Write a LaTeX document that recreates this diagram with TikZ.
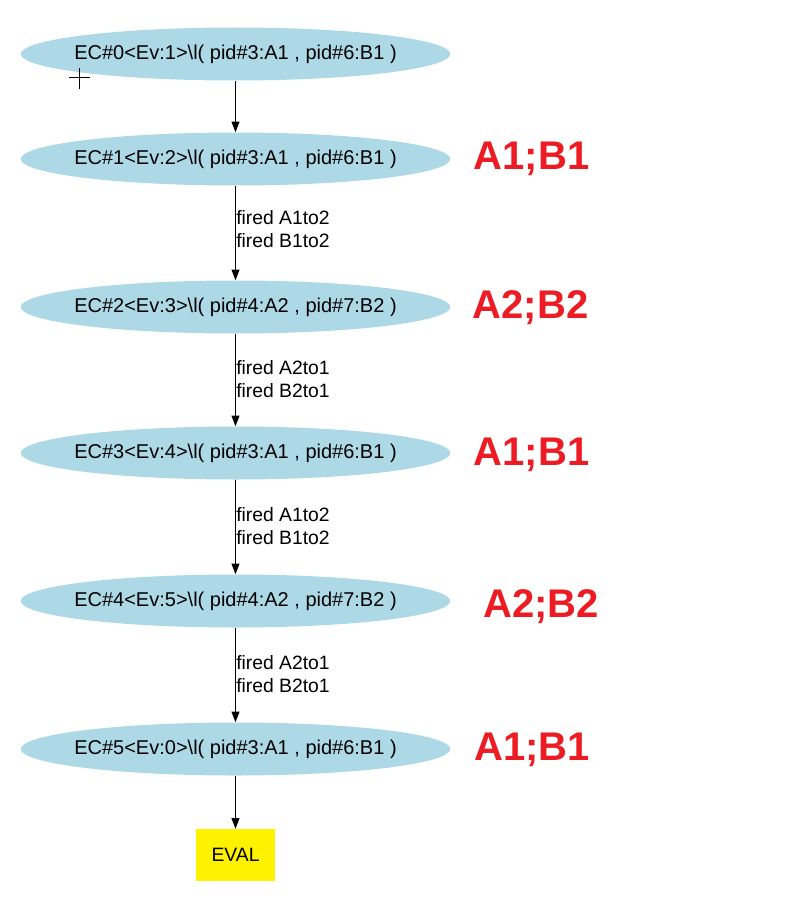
\documentclass[tikz,border=0pt]{standalone}
\usepackage{fontspec}
\setmainfont{Liberation Sans}
\usetikzlibrary{shapes.geometric,arrows.meta}

\definecolor{ecblue}{RGB}{173,216,230}
\definecolor{statered}{RGB}{237,28,36}

\tikzset{
  ecnode/.style={ellipse, fill=ecblue, minimum width=321pt, minimum height=39.75pt, inner xsep=-7pt, inner ysep=0pt, font=\fontsize{15}{18}\selectfont},
  firelabel/.style={anchor=west, align=left, inner sep=0pt, font=\fontsize{14.5}{17.25}\selectfont},
  statelabel/.style={text=statered, inner sep=0pt, font=\fontsize{30}{36}\selectfont\bfseries},
  evalbox/.style={rectangle, fill=yellow, minimum width=59.25pt, minimum height=39pt, inner sep=0pt, font=\fontsize{14.5}{17.25}\selectfont},
  edgearrow/.style={draw=black, line width=0.75pt, -{Triangle[length=8pt,width=6pt]}}
}

\newcommand{\ecText}[4]{EC\##1<Ev:#2>\textbackslash l( #3 , #4 )}

\begin{document}
\begin{tikzpicture}[x=0.75pt,y=0.75pt,yscale=-1]

\useasboundingbox (0,0) rectangle (792,906);

% States
\node [ecnode] (ec0) at (235.5, 54)  {\ecText{0}{1}{pid\#3:A1}{pid\#6:B1}};
\node [ecnode] (ec1) at (235.5,159)  {\ecText{1}{2}{pid\#3:A1}{pid\#6:B1}};
\node [ecnode] (ec2) at (235.5,307)  {\ecText{2}{3}{pid\#4:A2}{pid\#7:B2}};
\node [ecnode] (ec3) at (235.5,453)  {\ecText{3}{4}{pid\#3:A1}{pid\#6:B1}};
\node [ecnode] (ec4) at (235.5,601)  {\ecText{4}{5}{pid\#4:A2}{pid\#7:B2}};
\node [ecnode] (ec5) at (235.5,749)  {\ecText{5}{0}{pid\#3:A1}{pid\#6:B1}};
\node [evalbox] (eval) at (235.5,855) {EVAL};

% Cursor mark
\draw [line width=0.75pt] (69,78) -- (90,78);
\draw [line width=0.75pt] (79,68) -- (79,89);

% Transitions
\draw [edgearrow] (ec0) -- (ec1);
\draw [edgearrow] (ec1) -- (ec2);
\draw [edgearrow] (ec2) -- (ec3);
\draw [edgearrow] (ec3) -- (ec4);
\draw [edgearrow] (ec4) -- (ec5);
\draw [edgearrow] (ec5) -- (eval);

\node [firelabel] (fire1) at (236,229.5) {fired A1to2\\fired B1to2};
\node [firelabel] (fire2) at (236,379)   {fired A2to1\\fired B2to1};
\node [firelabel] (fire3) at (236,526)   {fired A1to2\\fired B1to2};
\node [firelabel] (fire4) at (236,674)   {fired A2to1\\fired B2to1};

% State names
\node [statelabel] (st1) at (531.5,159) {A1;B1};
\node [statelabel] (st2) at (530.5,308) {A2;B2};
\node [statelabel] (st3) at (531.5,455) {A1;B1};
\node [statelabel] (st4) at (541,607)   {A2;B2};
\node [statelabel] (st5) at (532,750)   {A1;B1};

\end{tikzpicture}
\end{document}
